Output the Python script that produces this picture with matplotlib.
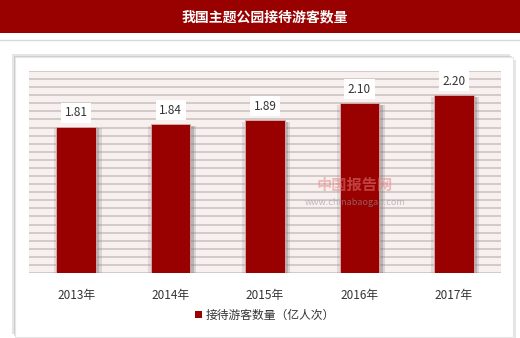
import matplotlib.pyplot as plt
import matplotlib.patheffects as pe
from matplotlib.patches import Rectangle
import numpy as np

plt.rcParams['font.family'] = ['Noto Sans CJK SC', 'DejaVu Sans']

# datos
years = ['2013年', '2014年', '2015年', '2016年', '2017年']
visitors = [1.81, 1.84, 1.89, 2.10, 2.20]
title = '我国主题公园接待游客数量'
series_name = '接待游客数量（亿人次）'

W, H = 520, 338
fig = plt.figure(figsize=(W / 100, H / 100), dpi=100)
fig.patch.set_facecolor('white')

# barra del título
fig.patches.append(Rectangle((0, 1 - 33 / H), 1, 33 / H, transform=fig.transFigure,
                             facecolor='#990000', edgecolor='none', zorder=-2))
fig.text(265 / W, 1 - 17 / H, title, color='white', fontsize=10, fontweight='bold',
         ha='center', va='center')
fig.add_artist(plt.Line2D([0, 1], [1 - 40 / H, 1 - 40 / H], transform=fig.transFigure,
                          color='#d8d8d8', lw=1, zorder=-2))

# marco blanco con sombra suave
marco = Rectangle((15 / W, 1 - 337 / H), 498 / W, 280 / H, transform=fig.transFigure,
                  facecolor='white', edgecolor='#e6e6e6', lw=0.8, zorder=-1)
marco.set_path_effects([pe.SimplePatchShadow(offset=(-2, 2), shadow_rgbFace='#aaaaaa', alpha=0.3),
                        pe.SimplePatchShadow(offset=(2, -2), shadow_rgbFace='#aaaaaa', alpha=0.3),
                        pe.SimplePatchShadow(offset=(-1, 1), shadow_rgbFace='#999999', alpha=0.3),
                        pe.Normal()])
fig.patches.append(marco)

ax = fig.add_axes([29 / W, 1 - 273 / H, 472 / W, 202 / H], zorder=1)
ax.set_facecolor('#f8efef')
ax.set_ylim(0, 2.5)
ax.set_xlim(-0.5, len(years) - 0.5)
ax.set_yticks(np.arange(0, 2.51, 0.1))
ax.yaxis.grid(True, color='#c8c0c0', lw=1.1)
ax.set_axisbelow(True)
ax.tick_params(left=False, labelleft=False, bottom=False)
for s in ax.spines.values():
    s.set_visible(False)

x = np.arange(len(years))
bars = ax.bar(x, visitors, width=0.42, color='#990000', edgecolor='#d9b0b0', lw=0.6, zorder=3)
for b in bars:
    b.set_path_effects([pe.SimplePatchShadow(offset=(4, -1), shadow_rgbFace='#888888', alpha=0.25),
                        pe.SimplePatchShadow(offset=(2.5, -1), shadow_rgbFace='#777777', alpha=0.35),
                        pe.SimplePatchShadow(offset=(-2, -1), shadow_rgbFace='#888888', alpha=0.2),
                        pe.Normal()])

for xi, v in zip(x, visitors):
    ax.annotate(f'{v:.2f}', (xi, v), xytext=(0, 10), textcoords='offset points',
                ha='center', va='center', fontsize=8.5, color='#333333', zorder=5,
                bbox=dict(boxstyle='square,pad=0.3', fc='white', ec='none'))

ax.set_xticks(x)
ax.set_xticklabels(years, fontsize=8.5, color='#333333')
ax.tick_params(axis='x', pad=8)

# marca de agua
fig.text(355 / W, 1 - 185 / H, '中国报告网', color='#e88080', alpha=0.5, fontsize=11,
         ha='center', va='center', fontweight='bold', zorder=5)
fig.text(355 / W, 1 - 202 / H, 'www.chinabaogao.com', color='#999999', alpha=0.6, fontsize=6.5,
         ha='center', va='center', zorder=5)

handle = Rectangle((0, 0), 1, 1, facecolor='#990000', edgecolor='none')
fig.legend(handles=[handle], labels=[series_name], loc='center', bbox_to_anchor=(265 / W, 1 - 315 / H),
           frameon=False, fontsize=8.5, handlelength=0.6, handleheight=0.6, handletextpad=0.3,
           labelcolor='#333333')

fig.savefig('out.png', dpi=100)
